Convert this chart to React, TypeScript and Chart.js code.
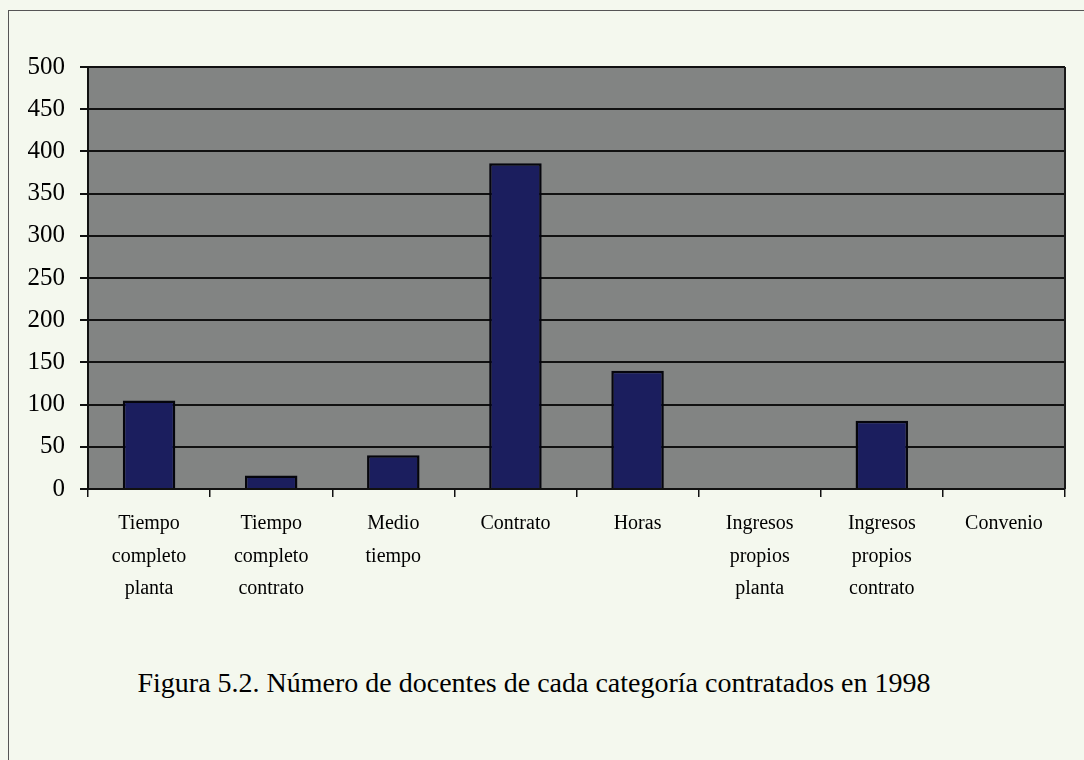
import React, { useEffect, useRef } from "react";
import { Chart, registerables } from "chart.js";

Chart.register(...registerables);

const categories: string[][] = [
  ["Tiempo", "completo", "planta"],
  ["Tiempo", "completo", "contrato"],
  ["Medio", "tiempo"],
  ["Contrato"],
  ["Horas"],
  ["Ingresos", "propios", "planta"],
  ["Ingresos", "propios", "contrato"],
  ["Convenio"],
];
const docentes: number[] = [105, 16, 40, 386, 140, 0, 81, 0];
const yMin = 0;
const yMax = 500;
const yStep = 50;
const caption = "Figura 5.2. Número de docentes de cada categoría contratados en 1998";

const FONT = "'Liberation Serif', 'Times New Roman', serif";

const plotBg = {
  id: "plotBg",
  beforeDraw(chart: any) {
    const { ctx, chartArea } = chart;
    if (!chartArea) return;
    ctx.save();
    ctx.fillStyle = "#828483";
    ctx.fillRect(chartArea.left, chartArea.top, chartArea.right - chartArea.left, chartArea.bottom - chartArea.top);
    ctx.restore();
  },
  afterDraw(chart: any) {
    const { ctx, chartArea } = chart;
    ctx.save();
    ctx.strokeStyle = "#1a1a1a";
    ctx.lineWidth = 2;
    ctx.beginPath();
    ctx.moveTo(chartArea.right, chartArea.top);
    ctx.lineTo(chartArea.right, chartArea.bottom);
    ctx.stroke();
    ctx.restore();
  },
};

export default function App() {
  const ref = useRef<HTMLCanvasElement>(null);
  useEffect(() => {
    if (!ref.current) return;
    const chart = new Chart(ref.current, {
      type: "bar",
      data: {
        labels: categories,
        datasets: [
          {
            data: docentes,
            backgroundColor: "#1b1e5e",
            borderColor: "#05050c",
            borderWidth: 2.5,
            barPercentage: 0.43,
            categoryPercentage: 1,
          },
        ],
      },
      options: {
        animation: false,
        responsive: false,
        maintainAspectRatio: false,
        layout: { padding: { left: 0, top: 67, right: 19, bottom: 0 } },
        plugins: { legend: { display: false }, tooltip: { enabled: false }, title: { display: false } },
        scales: {
          x: {
            afterFit: (s: any) => {
              s.height = 620 - 489;
            },
            grid: {
              display: true,
              drawOnChartArea: false,
              drawTicks: true,
              tickLength: 8,
              color: "#111",
              lineWidth: 1.5,
              offset: true,
            },
            border: { color: "#111", width: 2 },
            ticks: {
              color: "#000",
              padding: 11,
              maxRotation: 0,
              autoSkip: false,
              font: { family: FONT, size: 20, lineHeight: 1.62 },
            },
          },
          y: {
            min: yMin,
            max: yMax,
            afterFit: (s: any) => {
              s.width = 88;
            },
            grid: { color: "#111", lineWidth: 2, tickLength: 8 },
            border: { color: "#111", width: 2 },
            ticks: {
              stepSize: yStep,
              color: "#000",
              padding: 15,
              font: { family: FONT, size: 25 },
            },
          },
        },
      },
      plugins: [plotBg],
    });
    return () => chart.destroy();
  }, []);

  return (
    <div style={{ position: "fixed", left: 0, top: 0, width: 1084, height: 760, background: "#f4f8ee", overflow: "hidden" }}>
      <div
        style={{
          position: "absolute",
          left: 8,
          top: 10,
          width: 1076,
          height: 750,
          borderTop: "1.5px solid #555",
          borderLeft: "1.5px solid #555",
          boxSizing: "border-box",
        }}
      />
      <canvas ref={ref} width={1084} height={620} style={{ position: "absolute", left: 0, top: 0, width: 1084, height: 620 }} />
      <div
        style={{
          position: "absolute",
          left: 0,
          width: 1068,
          top: 665,
          textAlign: "center",
          fontFamily: FONT,
          fontSize: 28,
          color: "#000",
          lineHeight: "36px",
          whiteSpace: "nowrap",
        }}
      >
        {caption}
      </div>
    </div>
  );
}
